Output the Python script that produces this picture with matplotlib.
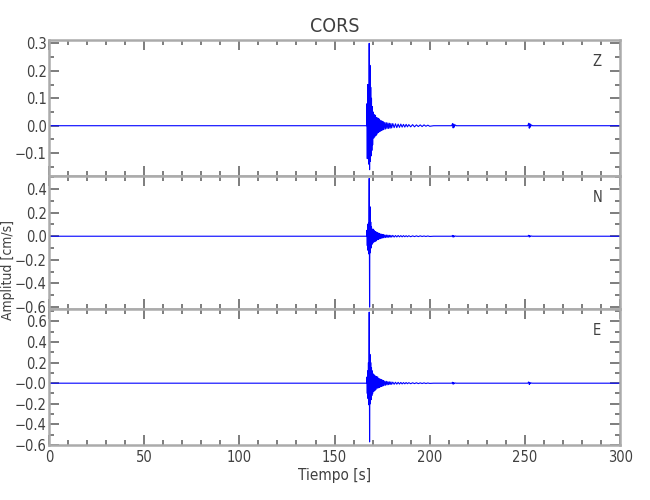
import numpy as np
import matplotlib
matplotlib.use('Agg')
import matplotlib.pyplot as plt
from matplotlib.ticker import MultipleLocator, FixedLocator, FixedFormatter

plt.rcParams['font.family'] = ['DejaVu Sans']
plt.rcParams['font.stretch'] = 'condensed'

# --- data (time [s], velocity [cm/s]) ---
# sample times shared by the three components
t_pre = [0, 166.8]
t_burst = [167.0, 167.2, 167.4, 167.6, 167.8, 168.0, 168.2, 168.4,
           168.6, 168.8, 169.0, 169.2, 169.4, 169.6, 169.8, 170.0]
t_coda1 = [170.3, 170.6, 170.9, 171.2, 171.5, 171.8, 172.1, 172.4, 172.7, 173.0,
           173.3, 173.6, 173.9, 174.2, 174.5, 174.8, 175.1, 175.4, 175.7, 176.0,
           176.4, 176.8, 177.2, 177.6, 178.0, 178.4, 178.8, 179.2, 179.6, 180.0]
t_coda2 = [180.6, 181.3, 182.0, 182.7, 183.4, 184.1, 184.8, 185.5, 186.2, 186.9,
           187.6, 188.3, 189.0, 190, 191, 192, 193, 194, 195, 196,
           197, 198, 199, 200, 202]
t_events = [211.5, 212.0, 212.3, 212.6, 212.9, 213.3, 214,
            251.5, 252.0, 252.3, 252.6, 252.9, 253.3, 254, 300]

# Z component
z_burst = [0.08, -0.12, 0.15, -0.10, 0.12, -0.14, 0.30, -0.16,
           0.22, -0.13, 0.14, -0.11, 0.10, -0.09, 0.07, -0.07]
z_coda1 = [0.05, -0.045, 0.04, -0.04, 0.038, -0.035, 0.03, -0.03, 0.028, -0.025,
           0.025, -0.022, 0.02, -0.02, 0.018, -0.017, 0.016, -0.015, 0.014, -0.013,
           0.012, -0.012, 0.011, -0.01, 0.01, -0.01, 0.009, -0.009, 0.008, -0.008]
z_coda2 = [0.008, -0.007, 0.007, -0.007, 0.006, -0.006, 0.006, -0.005, 0.005, -0.005,
           0.005, -0.004, 0.004, -0.004, 0.004, -0.004, 0.003, -0.003, 0.003, -0.003,
           0.003, -0.002, 0.002, -0.002, 0.0]
z_events = [0, 0.008, -0.008, 0.006, -0.005, 0.003, 0,
            0, 0.009, -0.009, 0.007, -0.005, 0.003, 0, 0]

# N component
n_burst = [0.05, -0.08, 0.10, -0.12, 0.11, -0.15, 0.49, -0.60,
           0.25, -0.14, 0.12, -0.10, 0.08, -0.07, 0.06, -0.06]
n_coda1 = [0.06, -0.05, 0.05, -0.045, 0.04, -0.04, 0.035, -0.03, 0.03, -0.028,
           0.025, -0.022, 0.02, -0.02, 0.018, -0.016, 0.015, -0.014, 0.013, -0.012,
           0.011, -0.011, 0.01, -0.01, 0.009, -0.009, 0.008, -0.008, 0.007, -0.007]
n_coda2 = [0.007, -0.007, 0.006, -0.006, 0.006, -0.005, 0.005, -0.005, 0.005, -0.004,
           0.004, -0.004, 0.004, -0.004, 0.003, -0.003, 0.003, -0.003, 0.003, -0.002,
           0.002, -0.002, 0.002, -0.002, 0.0]
n_events = [0, 0.007, -0.008, 0.005, -0.004, 0.002, 0,
            0, 0.008, -0.007, 0.005, -0.003, 0.002, 0, 0]

# E component
e_burst = [0.06, -0.10, 0.12, -0.15, 0.20, -0.21, 0.69, -0.57,
           0.28, -0.20, 0.20, -0.16, 0.15, -0.12, 0.12, -0.10]
e_coda1 = [0.09, -0.08, 0.08, -0.07, 0.07, -0.06, 0.065, -0.05, 0.06, -0.045,
           0.045, -0.04, 0.04, -0.035, 0.035, -0.03, 0.03, -0.027, 0.025, -0.022,
           0.02, -0.02, 0.018, -0.016, 0.015, -0.014, 0.013, -0.012, 0.012, -0.011]
e_coda2 = [0.01, -0.01, 0.009, -0.009, 0.008, -0.008, 0.007, -0.007, 0.006, -0.006,
           0.006, -0.005, 0.005, -0.005, 0.004, -0.004, 0.004, -0.004, 0.003, -0.003,
           0.003, -0.003, 0.002, -0.002, 0.0]
e_events = [0, 0.009, -0.01, 0.006, -0.004, 0.002, 0,
            0, 0.012, -0.012, 0.007, -0.004, 0.002, 0, 0]

components = ['Z', 'N', 'E']
ylims = [(-0.183, 0.312), (-0.612, 0.51), (-0.60, 0.725)]
yticks = [[0.3, 0.2, 0.1, 0.0, -0.1],
          [0.4, 0.2, 0.0, -0.2, -0.4, -0.6],
          [0.6, 0.4, 0.2, 0.0, -0.2, -0.4, -0.6]]
yticklabels = [['0.3', '0.2', '0.1', '0.0', '\u22120.1'],
               ['0.4', '0.2', '0.0', '\u22120.2', '\u22120.4', '\u22120.6'],
               ['0.6', '0.4', '0.2', '\u22120.0', '\u22120.2', '\u22120.4', '\u22120.6']]
yminor = [0.05, 0.1, 0.1]

t_all = t_pre + t_burst + t_coda1 + t_coda2 + t_events
traces = [[0, 0] + z_burst + z_coda1 + z_coda2 + z_events,
          [0, 0] + n_burst + n_coda1 + n_coda2 + n_events,
          [0, 0] + e_burst + e_coda1 + e_coda2 + e_events]

fig = plt.figure(figsize=(6.5, 5), dpi=100)
left, width = 0.0754, 0.8786
bounds = [(0.648, 0.272), (0.383, 0.265), (0.110, 0.273)]

axes = []
for i, (bot, h) in enumerate(bounds):
    ax = fig.add_axes([left, bot, width, h])
    ax.plot(t_all, traces[i], color='blue', lw=0.8)
    ax.set_xlim(0, 300)
    ax.set_ylim(*ylims[i])
    ax.xaxis.set_major_locator(MultipleLocator(50))
    ax.xaxis.set_minor_locator(MultipleLocator(10))
    ax.yaxis.set_major_locator(FixedLocator(yticks[i]))
    ax.yaxis.set_major_formatter(FixedFormatter(yticklabels[i]))
    ax.yaxis.set_minor_locator(MultipleLocator(yminor[i]))
    ax.tick_params(which='both', direction='in', top=True, right=True,
                   colors='#5a5a5a', labelcolor='#404040', labelsize=10.5)
    ax.tick_params(which='major', length=7, width=1.1)
    ax.tick_params(which='minor', length=3.5, width=1.1)
    ax.tick_params(axis='y', pad=1.5)
    for s in ax.spines.values():
        s.set_color('#ababab')
        s.set_linewidth(1.8)
    if i < 2:
        ax.tick_params(labelbottom=False)
    ax.text(0.96, 0.84, components[i], transform=ax.transAxes,
            ha='center', va='center', color='#404040', fontsize=10.5)
    axes.append(ax)

axes[0].set_title('CORS', color='#404040', fontsize=14, pad=6)
axes[2].set_xlabel('Tiempo [s]', color='#404040', fontsize=11, labelpad=2)
fig.text(0.012, 0.46, 'Amplitud [cm/s]', rotation=90, ha='center', va='center',
         color='#404040', fontsize=10)

fig.savefig('out.png', dpi=100)
